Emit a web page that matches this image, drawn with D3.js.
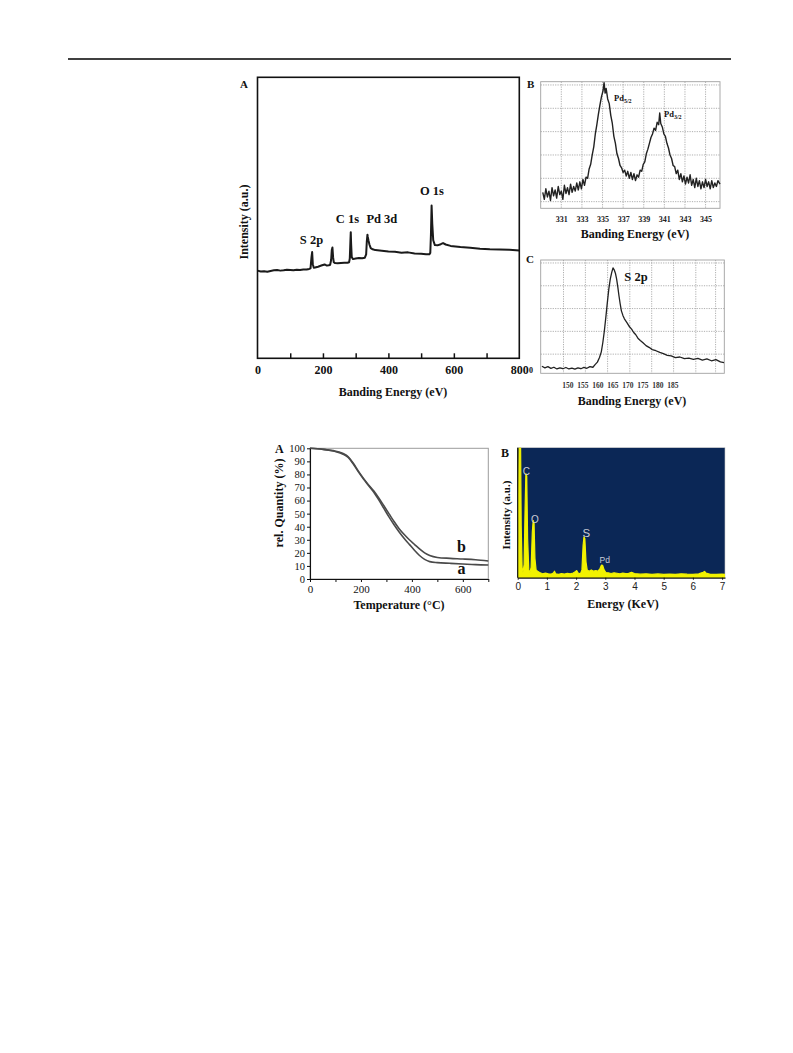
<!DOCTYPE html>
<html><head><meta charset="utf-8">
<script src="https://cdn.jsdelivr.net/npm/d3@7"></script>
<style>body{margin:0;background:#fff}</style>
</head><body>
<script>
// ---------- DATA ----------
// Panel A: XPS survey (binding energy eV, intensity a.u.)
const surveyData = [[0,31.2],[10,30.9],[20,31.0],[30,30.8],[40,31.1],[50,31.3],[60,31.4],[70,31.2],[80,31.3],[90,31.5],[100,31.4],[110,31.3],[120,31.5],[130,31.4],[140,31.6],[150,31.6],[158,31.8],[162,32],[165,36],[167,37.8],[169,33.5],[172,32.2],[176,32.3],[185,32.6],[195,33.0],[205,33.4],[212,33.0],[218,33.1],[222,33.3],[225,35],[227,38.5],[229,39.4],[231,36],[233,34.2],[237,33.9],[245,33.8],[255,33.9],[265,34.0],[275,34.0],[280,34.2],[282,35.5],[284,42],[285,44.9],[286,41],[288,36],[292,35.3],[300,35.5],[310,35.7],[320,35.6],[328,35.8],[332,37],[334,41.5],[336,44],[337,43.2],[339,42],[342,40.5],[346,39.2],[352,38.8],[360,38.5],[380,38.3],[400,38.0],[420,37.9],[440,37.6],[460,37.7],[480,37.3],[500,37.2],[515,37.0],[525,37.0],[528,37.5],[530,44],[532,54.4],[534,48],[537,42],[542,40.3],[550,40.2],[560,40.6],[567,41.0],[575,40.5],[590,40.0],[620,39.6],[650,39.3],[680,39.0],[710,38.8],[740,38.7],[770,38.6],[800,38.4]];
const surveyTicks = [0,100,200,300,400,500,600,700,800];
const surveyLabels = [["S 2p",165,40.7],["C 1s",275,48.1],["Pd 3d",380,48.1],["O 1s",533,58.1]];

// Panel B: Pd 3d high resolution
const pdData = [[329.2,8],[329.35,2],[329.5,11],[329.65,4],[329.8,9],[329.95,1],[330.1,12],[330.25,5],[330.4,10],[330.55,3],[330.7,13],[330.85,6],[331.0,9],[331.15,2],[331.3,14],[331.45,7],[331.6,12],[331.75,6],[331.9,15],[332.05,8],[332.2,13],[332.35,9],[332.5,16],[332.65,10],[332.8,17],[332.95,11],[333.1,19],[333.25,14],[333.4,21],[333.55,20],[333.7,28],[333.85,32],[334.0,40],[334.15,47],[334.3,58],[334.45,66],[334.6,75],[334.75,83],[334.9,90],[335.05,95],[335.15,102],[335.25,93],[335.35,97],[335.5,88],[335.65,84],[335.8,74],[335.95,67],[336.1,56],[336.25,50],[336.4,41],[336.55,37],[336.7,31],[336.85,29],[337.0,25],[337.15,27],[337.3,22],[337.45,26],[337.6,20],[337.75,25],[337.9,19],[338.05,24],[338.2,18],[338.35,23],[338.5,21],[338.65,27],[338.8,26],[338.95,32],[339.1,34],[339.25,41],[339.4,45],[339.55,50],[339.7,55],[339.85,58],[340.0,63],[340.15,61],[340.3,68],[340.45,66],[340.55,76],[340.65,67],[340.8,64],[340.95,58],[341.1,56],[341.25,50],[341.4,46],[341.55,40],[341.7,37],[341.85,31],[342.0,30],[342.15,24],[342.3,27],[342.45,19],[342.6,24],[342.75,17],[342.9,22],[343.05,15],[343.2,21],[343.35,16],[343.5,23],[343.65,14],[343.8,19],[343.95,12],[344.1,20],[344.25,13],[344.4,18],[344.55,11],[344.7,17],[344.85,12],[345.0,19],[345.15,13],[345.3,17],[345.45,11],[345.6,18],[345.75,12],[345.9,16],[346.05,13],[346.2,18],[346.4,15]];
const pdTicks = [331,333,335,337,339,341,343,345];
const pdGridY = [0,20,40,60,80,100];

// Panel C: S 2p high resolution
const sData = [[141.5,9.4],[142.5,8],[143.5,9],[144.5,7.5],[145.5,8.5],[146.5,7],[147.5,8],[148.5,7.2],[149.5,8.3],[150.5,7],[151.5,7.8],[152.5,6.8],[153.5,8],[154.5,7.2],[155.5,8.4],[156.5,7.6],[157.5,9],[158.5,8.5],[159.3,11],[160,13],[160.7,17],[161.3,22],[161.8,30],[162.3,40],[162.8,52],[163.3,65],[163.8,77],[164.3,86],[164.8,92],[165.2,95.6],[165.6,94],[166,91],[166.4,86],[166.8,79],[167.2,71],[167.6,64],[168,58],[168.5,54],[169,51],[169.5,49],[170,47],[170.7,44],[171.4,42],[172.1,39],[172.8,37],[173.5,34],[174.3,32],[175.2,30],[176.2,27.5],[177.2,26],[178.3,24],[179.5,23],[180.8,21.5],[182,20.5],[183.3,19],[184.6,18.5],[186,17],[187.5,17.5],[189,16],[190.5,16.5],[192,15.5],[193.5,16.2],[195,14.8],[196.5,15.8],[198,14.2],[199.5,15.2],[201,13.2],[202.2,12.6]];
const sTicks = [150,155,160,165,170,175,180,185];
const sGridX = [148.7,156,163.4,170.8,178.1,185.4,192.8,199.4];
const sGridY = [20,40,60,80,100];

// Panel TGA (temperature °C, rel. quantity %)
const tgaA = [[0,100],[50,99.2],[100,97.6],[130,95.5],[150,93],[170,88],[190,82],[210,76.5],[230,71.5],[250,66.5],[270,60.5],[290,54],[310,47.5],[330,41.5],[350,36],[370,31],[390,26.5],[410,22],[430,18],[450,15],[470,13.3],[500,12.5],[550,12],[600,11.5],[650,11],[700,10.7]];
const tgaB = [[0,100],[50,99.3],[100,97.8],[130,96],[150,93.5],[170,88.5],[190,82.5],[210,77],[230,72],[250,67.5],[270,62],[290,56],[310,50],[330,44],[350,38.5],[370,34],[390,30],[410,26.5],[430,23],[450,20],[470,18],[500,16.5],[550,15.8],[600,15.3],[650,14.7],[700,13.8]];
const tgaXTicks = [0,100,200,300,400,500,600,700];
const tgaXLabels = [0,200,400,600];
const tgaYTicks = [0,10,20,30,40,50,60,70,80,90,100];

// Panel EDX (keV, intensity)
const edxData = [[0.0,3],[0.03,60],[0.06,130],[0.09,130],[0.12,40],[0.15,8],[0.18,4],[0.22,10],[0.25,50],[0.28,80],[0.31,78],[0.34,30],[0.38,6],[0.42,4],[0.46,8],[0.50,35],[0.53,44],[0.56,42],[0.59,15],[0.63,6],[0.68,5],[0.75,4],[0.85,3],[0.95,3.5],[1.05,3],[1.15,2.8],[1.22,3.5],[1.26,5],[1.30,3],[1.4,2.6],[1.5,3.2],[1.6,2.8],[1.7,3.4],[1.8,3],[1.9,3.6],[1.97,4.5],[2.02,5.5],[2.07,3.5],[2.15,3],[2.2,6],[2.24,25],[2.27,31.5],[2.30,30],[2.34,12],[2.38,6],[2.45,5],[2.52,6],[2.6,5],[2.68,5.5],[2.75,5],[2.82,7],[2.87,9.7],[2.91,9.5],[2.96,6],[3.02,4],[3.1,3.8],[3.2,3.2],[3.3,3.8],[3.4,3.4],[3.5,3.0],[3.6,3.5],[3.7,3.1],[3.8,3.3],[3.9,4.2],[4.0,3.2],[4.2,2.7],[4.4,3.0],[4.6,2.6],[4.8,2.9],[5.0,2.5],[5.2,2.8],[5.4,2.6],[5.6,3.0],[5.8,2.7],[6.0,2.6],[6.2,2.9],[6.35,4.2],[6.4,4.8],[6.45,3.5],[6.6,2.6],[6.8,2.5],[7.0,2.7],[7.1,2.5]];
const edxTicks = [0,1,2,3,4,5,6,7];
const edxLabels = [["C",0.3,79],["O",0.59,42],["S",2.35,31],["Pd",2.98,11]];

// ---------- DRAW ----------
const SERIF = "'Liberation Serif','Times New Roman',serif";
const SANS = "'Liberation Sans',Arial,sans-serif";
const svg = d3.select("body").append("svg").attr("width",793).attr("height",1053)
  .style("font-family",SERIF);
svg.append("rect").attr("width",793).attr("height",1053).attr("fill","#fff");
svg.append("line").attr("x1",68).attr("x2",731).attr("y1",59).attr("y2",59)
  .attr("stroke","#000").attr("stroke-width",1.5);

function txt(g,x,y,s,size,opts={}){
  const t=g.append("text").attr("x",x).attr("y",y).text(s)
    .attr("font-size",size).attr("font-weight",opts.weight||"bold")
    .attr("text-anchor",opts.anchor||"start").attr("fill",opts.fill||"#111");
  if(opts.family) t.attr("font-family",opts.family);
  if(opts.rotate) t.attr("transform",`rotate(-90,${x},${y})`);
  return t;
}

// ===== Panel A =====
{
  const x = d3.scaleLinear().domain([0,800]).range([257.5,519.3]);
  const y = d3.scaleLinear().domain([0,100]).range([358.3,77.3]);
  const g = svg.append("g");
  g.append("path").datum(surveyData)
    .attr("d",d3.line().x(d=>x(d[0])).y(d=>y(d[1])))
    .attr("fill","none").attr("stroke","#1a1a1a").attr("stroke-width",2).attr("stroke-linejoin","round");
  g.append("rect").attr("x",x(0)).attr("y",y(100)).attr("width",x(800)-x(0)).attr("height",y(0)-y(100))
    .attr("fill","none").attr("stroke","#111").attr("stroke-width",1.6);
  const ax = g.append("g").attr("transform",`translate(0,${y(0)})`)
    .call(d3.axisBottom(x).tickValues(surveyTicks).tickSizeInner(-5).tickSizeOuter(0).tickPadding(7)
      .tickFormat(d=> d%200===0 ? d : ""));
  ax.select(".domain").remove();
  ax.selectAll("line").attr("stroke","#111").attr("stroke-width",1.5)
    .filter(d=>d===0||d===800).remove();
  ax.selectAll("text").attr("font-family",SERIF).attr("font-size",12).attr("font-weight","bold").attr("fill","#111");
  surveyLabels.forEach(l=>txt(g,x(l[1]),y(l[2]),l[0],12.5,{anchor:"middle"}));
  txt(g,393,396,"Banding Energy (eV)",12,{anchor:"middle"});
  txt(g,248,222,"Intensity (a.u.)",12,{anchor:"middle",rotate:true});
  txt(g,240,88,"A",11);
}

// ===== Panel B =====
{
  const x = d3.scaleLinear().domain([329,346.4]).range([540.7,720]);
  const y = d3.scaleLinear().domain([-5.7,102.8]).range([208.3,81.7]);
  const g = svg.append("g");
  g.selectAll(".gx").data(pdTicks).join("line")
    .attr("x1",d=>x(d)).attr("x2",d=>x(d)).attr("y1",y(102.8)).attr("y2",y(-5.7))
    .attr("stroke","#9a9a9a").attr("stroke-width",0.8).attr("stroke-dasharray","1.2,1.2");
  g.selectAll(".gy").data(pdGridY).join("line")
    .attr("x1",x(329)).attr("x2",x(346.4)).attr("y1",d=>y(d)).attr("y2",d=>y(d))
    .attr("stroke","#9a9a9a").attr("stroke-width",0.8).attr("stroke-dasharray","1.2,1.2");
  g.append("rect").attr("x",x(329)).attr("y",y(102.8)).attr("width",x(346.4)-x(329)).attr("height",y(-5.7)-y(102.8))
    .attr("fill","none").attr("stroke","#a0a0a0").attr("stroke-width",0.9);
  g.append("path").datum(pdData)
    .attr("d",d3.line().x(d=>x(d[0])).y(d=>y(Math.min(d[1],102.5))))
    .attr("fill","none").attr("stroke","#222").attr("stroke-width",1.4).attr("stroke-linejoin","round");
  const ax = g.append("g").attr("transform",`translate(0,${y(-5.7)})`)
    .call(d3.axisBottom(x).tickValues(pdTicks).tickSize(0).tickPadding(8));
  ax.select(".domain").remove();
  ax.selectAll("text").attr("font-family",SERIF).attr("font-size",8).attr("font-weight","bold").attr("fill","#222");
  const l1 = txt(g,614,101,"Pd",8.5);
  l1.append("tspan").attr("font-size",6).attr("dy",1.5).text("5/2");
  const l2 = txt(g,664,117,"Pd",8.5);
  l2.append("tspan").attr("font-size",6).attr("dy",1.5).text("3/2");
  txt(g,635,238,"Banding Energy (eV)",12,{anchor:"middle"});
  txt(g,527,88,"B",11);
}

// ===== Panel C =====
{
  const x = d3.scaleLinear().domain([141.1,202.3]).range([540.7,724.3]);
  const y = d3.scaleLinear().domain([3.2,102.6]).range([373.3,260]);
  const g = svg.append("g");
  g.selectAll(".gx").data(sGridX).join("line")
    .attr("x1",d=>x(d)).attr("x2",d=>x(d)).attr("y1",y(102.6)).attr("y2",y(3.2))
    .attr("stroke","#9a9a9a").attr("stroke-width",0.8).attr("stroke-dasharray","1.2,1.2");
  g.selectAll(".gy").data(sGridY).join("line")
    .attr("x1",x(141.1)).attr("x2",x(202.3)).attr("y1",d=>y(d)).attr("y2",d=>y(d))
    .attr("stroke","#9a9a9a").attr("stroke-width",0.8).attr("stroke-dasharray","1.2,1.2");
  g.append("rect").attr("x",x(141.1)).attr("y",y(102.6)).attr("width",x(202.3)-x(141.1)).attr("height",y(3.2)-y(102.6))
    .attr("fill","none").attr("stroke","#a0a0a0").attr("stroke-width",0.9);
  g.append("path").datum(sData)
    .attr("d",d3.line().x(d=>x(d[0])).y(d=>y(d[1])))
    .attr("fill","none").attr("stroke","#222").attr("stroke-width",1.3).attr("stroke-linejoin","round");
  const ax = g.append("g").attr("transform",`translate(0,${y(3.2)})`)
    .call(d3.axisBottom(x).tickValues(sTicks).tickSize(0).tickPadding(9));
  ax.select(".domain").remove();
  ax.selectAll("text").attr("font-family",SERIF).attr("font-size",7.5).attr("font-weight","bold").attr("fill","#333");
  txt(g,636,281,"S 2p",12.5,{anchor:"middle"});
  txt(g,531,373,"0",8,{anchor:"middle"});
  txt(g,632,405,"Banding Energy (eV)",12,{anchor:"middle"});
  txt(g,526,263,"C",11);
}

// ===== Panel TGA =====
{
  const x = d3.scaleLinear().domain([0,700]).range([310,488.3]);
  const y = d3.scaleLinear().domain([0,100]).range([579,448.3]);
  const g = svg.append("g");
  g.append("rect").attr("x",x(0)).attr("y",y(100)).attr("width",x(700)-x(0)).attr("height",y(0)-y(100))
    .attr("fill","none").attr("stroke","#9c9c9c").attr("stroke-width",1);
  const line = d3.line().curve(d3.curveMonotoneX).x(d=>x(d[0])).y(d=>y(d[1]));
  [tgaA,tgaB].forEach(s=>g.append("path").datum(s).attr("d",line)
    .attr("fill","none").attr("stroke","#4a4a4a").attr("stroke-width",1.6));
  const ax = g.append("g").attr("transform",`translate(0,${y(0)})`)
    .call(d3.axisBottom(x).tickValues(tgaXTicks).tickSizeInner(3).tickSizeOuter(0).tickPadding(3)
      .tickFormat(d=>tgaXLabels.includes(d)?d:""));
  ax.select(".domain").attr("stroke","#111").attr("stroke-width",1.1);
  ax.selectAll("line").attr("stroke","#111");
  ax.selectAll("text").attr("font-family",SERIF).attr("font-size",11).attr("fill","#111");
  const ay = g.append("g").attr("transform",`translate(${x(0)},0)`)
    .call(d3.axisLeft(y).tickValues(tgaYTicks).tickSizeInner(3).tickSizeOuter(0).tickPadding(2));
  ay.select(".domain").attr("stroke","#111").attr("stroke-width",1.1);
  ay.selectAll("line").attr("stroke","#111");
  ay.selectAll("text").attr("font-family",SERIF).attr("font-size",10.5).attr("fill","#111");
  txt(g,x(595),y(20.5),"b",16,{anchor:"middle"});
  txt(g,x(595),y(3.5),"a",16,{anchor:"middle"});
  txt(g,399,609,"Temperature (°C)",12,{anchor:"middle"});
  txt(g,283,503,"rel. Quantity (%)",12,{anchor:"middle",rotate:true});
  txt(g,275,453,"A",12);
}

// ===== Panel EDX =====
{
  const x = d3.scaleLinear().domain([0,7.1]).range([517.7,725]);
  const y = d3.scaleLinear().domain([0,100]).range([577.7,447.7]);
  const g = svg.append("g");
  g.append("rect").attr("x",x(0)).attr("y",y(100)).attr("width",x(7.1)-x(0)).attr("height",y(0)-y(100))
    .attr("fill","#0b2756").attr("stroke","#c8c8c8").attr("stroke-width",0.6);
  g.append("clipPath").attr("id","edxclip").append("rect")
    .attr("x",x(0)).attr("y",y(100)).attr("width",x(7.1)-x(0)).attr("height",y(0)-y(100));
  g.append("path").datum(edxData).attr("clip-path","url(#edxclip)")
    .attr("d",d3.area().x(d=>x(d[0])).y0(y(0)).y1(d=>y(d[1])))
    .attr("fill","#f2f200").attr("stroke","#f2f200").attr("stroke-width",1.2).attr("stroke-linejoin","round");
  edxLabels.forEach(l=>txt(g,x(l[1]),y(l[2]),l[0],l[0]==="S"?11.5:(l[0]==="Pd"?8.5:10),
    {anchor:"middle",weight:"normal",family:SANS,fill:"#c9ccd6"}));
  const ax = g.append("g").attr("transform",`translate(0,${y(0)})`)
    .call(d3.axisBottom(x).tickValues(edxTicks).tickSizeInner(2).tickSizeOuter(0).tickPadding(3).tickFormat(d3.format("d")));
  ax.select(".domain").attr("stroke","#111").attr("stroke-width",1.2);
  ax.selectAll("line").attr("stroke","#111");
  ax.selectAll("text").attr("font-family",SANS).attr("font-size",10).attr("fill","#222");
  g.append("line").attr("x1",x(0)).attr("x2",x(0)).attr("y1",y(100)).attr("y2",y(0))
    .attr("stroke","#111").attr("stroke-width",1.2);
  txt(g,623,608,"Energy (KeV)",12,{anchor:"middle"});
  txt(g,510,515,"Intensity (a.u.)",11,{anchor:"middle",rotate:true});
  txt(g,501,457,"B",12);
}
</script>
</body></html>
